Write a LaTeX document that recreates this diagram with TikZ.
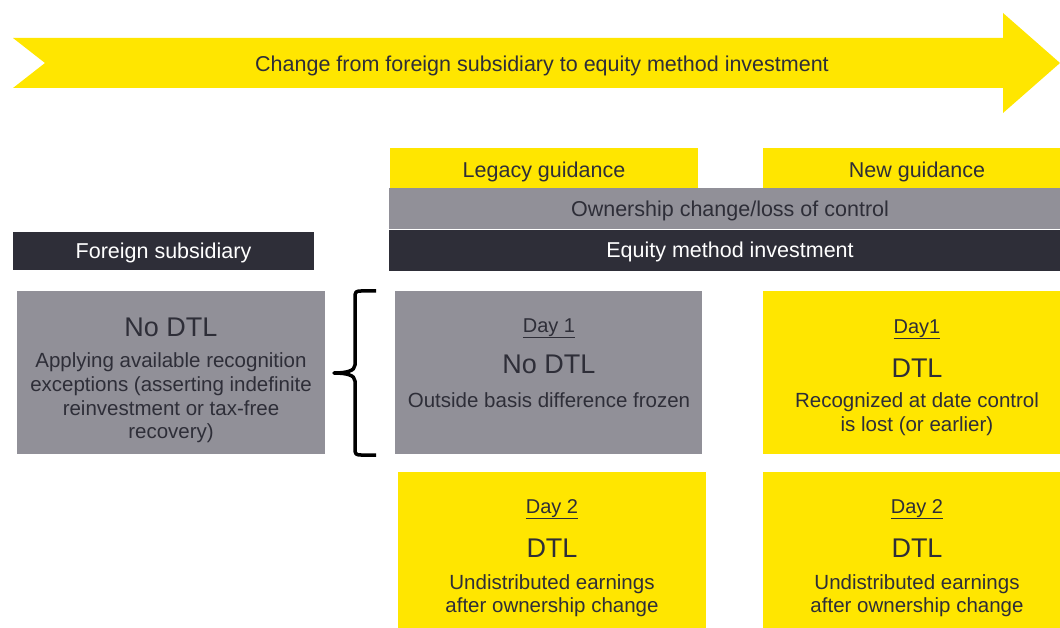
\documentclass[tikz,border=0pt]{standalone}
\usepackage{fontspec}
\setmainfont{Liberation Sans}
\definecolor{eyyellow}{HTML}{FFE600}
\definecolor{eydark}{HTML}{2E2E38}
\definecolor{eygray}{HTML}{919098}
\begin{document}
\begin{tikzpicture}[x=1pt,y=-1pt,
  panel/.style={inner sep=0pt, outer sep=0pt, anchor=north west, draw=none},
  ypanel/.style={panel, fill=eyyellow},
  gpanel/.style={panel, fill=eygray},
  dpanel/.style={panel, fill=eydark},
  head/.style={font=\fontsize{21.5}{24}\selectfont, text=eydark, inner sep=0pt, anchor=base},
  headw/.style={head, text=white},
  daytag/.style={font=\fontsize{20}{24}\selectfont, text=eydark, inner sep=0pt, anchor=base},
  bigtag/.style={font=\fontsize{27}{30}\selectfont, text=eydark, inner sep=0pt, anchor=base},
  bodytxt/.style={font=\fontsize{20.5}{24}\selectfont, text=eydark, inner sep=0pt, anchor=base}
]
\useasboundingbox (0,0) rectangle (1060,628);

% banner arrow
\fill[eyyellow] (13,38) -- (1003,38) -- (1003,13) -- (1060,63) -- (1003,113)
  -- (1003,88) -- (13,88) -- (45,63) -- cycle;
\node[head] (bannertxt) at (542,72) {Change from foreign subsidiary to equity method investment};

% column headers
\node[ypanel, minimum width=308pt, minimum height=40pt] (legacy) at (390,148) {};
\node[head] (legacytxt) at (544,178) {Legacy guidance};
\node[ypanel, minimum width=297pt, minimum height=40pt] (newg) at (763,148) {};
\node[head] (newgtxt) at (917,178) {New guidance};
\node[gpanel, minimum width=671pt, minimum height=41pt] (owner) at (389,188) {};
\node[head] (ownertxt) at (730,217) {Ownership change/loss of control};
\node[dpanel, minimum width=671pt, minimum height=41pt] (equity) at (389,230) {};
\node[headw] (equitytxt) at (730,258) {Equity method investment};
\node[dpanel, minimum width=301pt, minimum height=38pt] (foreign) at (13,232) {};
\node[headw] (foreigntxt) at (163.5,259) {Foreign subsidiary};

% foreign subsidiary box
\node[gpanel, minimum width=308pt, minimum height=163pt] (fsbox) at (17,291) {};
\node[bigtag] (fsbig) at (171,337) {No DTL};
\node[bodytxt] (fsl1) at (171,367) {Applying available recognition};
\node[bodytxt] (fsl2) at (171,391) {exceptions (asserting indefinite};
\node[bodytxt] (fsl3) at (171,415) {reinvestment or tax-free};
\node[bodytxt] (fsl4) at (171,438) {recovery)};

% brace
\draw[line width=3.5pt, line join=round, line cap=butt]
  (376,291) -- (361,291) .. controls (356,291) and (355,292) .. (355,297)
  -- (355,365) .. controls (355,371) and (346,373) .. (334,373)
  .. controls (346,373) and (355,375) .. (355,381)
  -- (355,449) .. controls (355,454) and (356,455) .. (361,455) -- (376,455);

% legacy day 1
\node[gpanel, minimum width=307pt, minimum height=163pt] (lday1) at (395,291) {};
\node[daytag] (lday1tag) at (549,332) {\underline{Day 1}};
\node[bigtag] (lday1big) at (549,373) {No DTL};
\node[bodytxt] (lday1l1) at (549,407) {Outside basis difference frozen};

% new day 1
\node[ypanel, minimum width=297pt, minimum height=163pt] (nday1) at (763,291) {};
\node[daytag] (nday1tag) at (917,333) {\underline{Day1}};
\node[bigtag] (nday1big) at (917,377) {DTL};
\node[bodytxt] (nday1l1) at (917,407) {Recognized at date control};
\node[bodytxt] (nday1l2) at (917,431) {is lost (or earlier)};

% legacy day 2
\node[ypanel, minimum width=308pt, minimum height=156pt] (lday2) at (398,472) {};
\node[daytag] (lday2tag) at (552,513) {\underline{Day 2}};
\node[bigtag] (lday2big) at (552,557) {DTL};
\node[bodytxt] (lday2l1) at (552,589) {Undistributed earnings};
\node[bodytxt] (lday2l2) at (552,612) {after ownership change};

% new day 2
\node[ypanel, minimum width=297pt, minimum height=156pt] (nday2) at (763,472) {};
\node[daytag] (nday2tag) at (917,513) {\underline{Day 2}};
\node[bigtag] (nday2big) at (917,557) {DTL};
\node[bodytxt] (nday2l1) at (917,589) {Undistributed earnings};
\node[bodytxt] (nday2l2) at (917,612) {after ownership change};
\end{tikzpicture}
\end{document}
